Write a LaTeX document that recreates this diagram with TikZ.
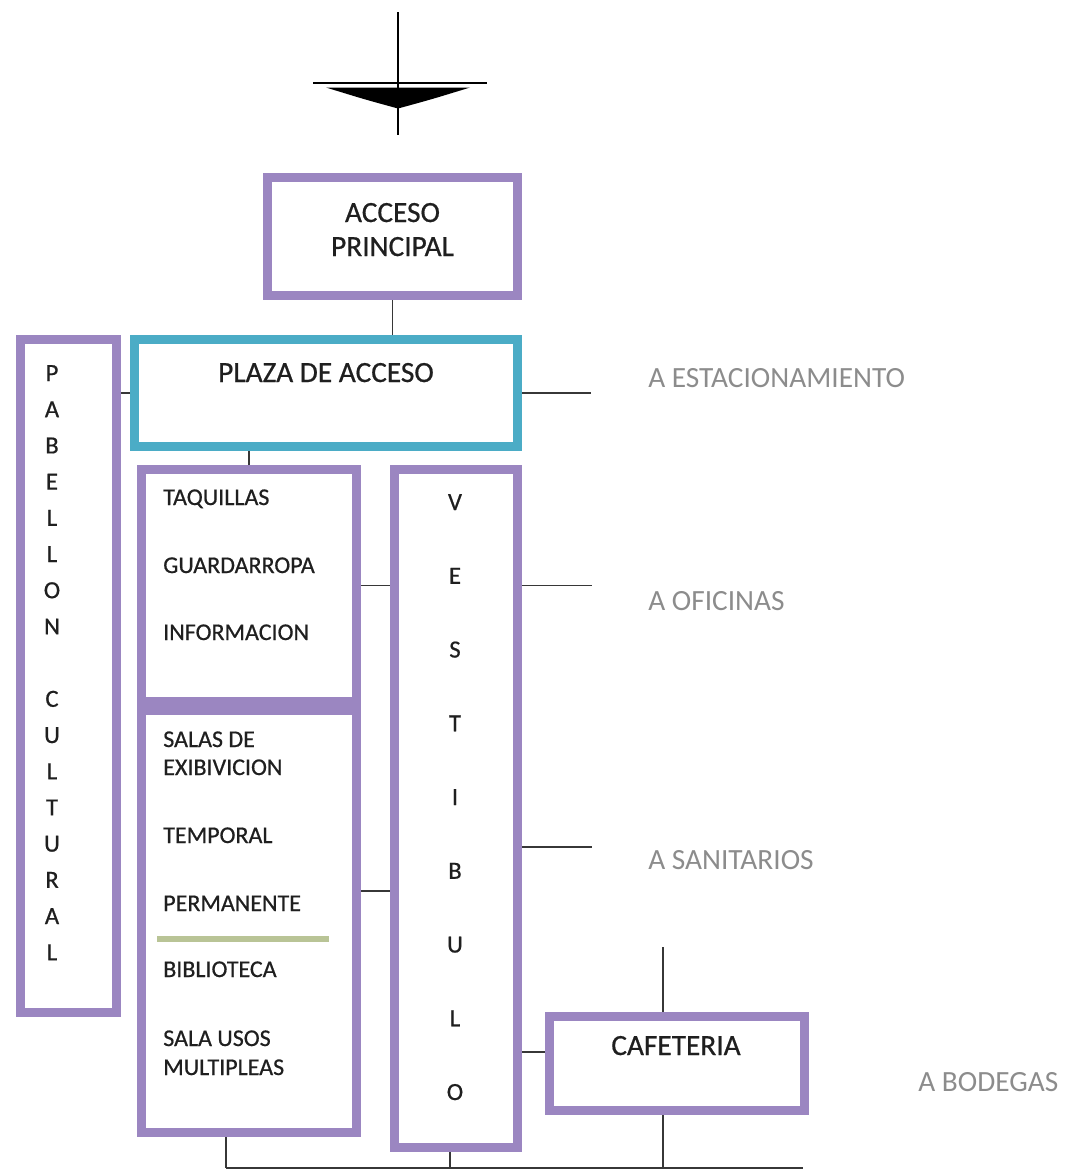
\documentclass[tikz,border=0pt]{standalone}
\usepackage{fontspec}
\setmainfont{Carlito}
\newfontfamily\darkfont[FakeBold=0.6]{Carlito}
\definecolor{boxpurple}{RGB}{155,134,193}
\definecolor{boxteal}{RGB}{75,172,198}
\definecolor{olive}{RGB}{185,196,150}
\definecolor{labgray}{RGB}{140,140,140}
\definecolor{linegray}{RGB}{55,55,55}
\begin{document}
\begin{tikzpicture}[x=0.75pt,y=-0.75pt,
  box/.style={draw=boxpurple,line width=6.75pt,rectangle,inner sep=0pt,fill=white},
  tealbox/.style={box,draw=boxteal},
  conn/.style={draw=linegray,line width=1.3pt},
  bigtxt/.style={inner sep=0pt,anchor=base,text=black!88,font=\darkfont\fontsize{22}{26}\selectfont},
  smalltxt/.style={inner sep=0pt,anchor=base west,text=black!88,font=\darkfont\fontsize{18}{21}\selectfont},
  lettertxt/.style={inner sep=0pt,anchor=base,text=black!88,font=\darkfont\fontsize{18.5}{21}\selectfont},
  graytxt/.style={inner sep=0pt,anchor=base west,text=labgray,font=\fontsize{22}{26}\selectfont}]
\useasboundingbox (0,0) rectangle (1066,1171);

% north symbol
\coordinate (nTop) at (398,12);
\coordinate (nBot) at (398,135);
\coordinate (nL) at (313,82.7);
\coordinate (nR) at (487,82.7);
\fill[black] (326,87.5) .. controls (365,99.5) .. (398,108.5) .. controls (431,99.5) .. (470,87.5) -- cycle;
\draw[line width=1.6pt] (nTop) -- (nBot);
\draw[line width=1.6pt] (nL) -- (nR);

% boxes
\node[box,minimum width=187.5pt,minimum height=88.5pt] (acceso) at (392.5,236.5) {};
\node[tealbox,minimum width=287.25pt,minimum height=80.25pt] (plaza) at (326,393) {};
\node[box,minimum width=72pt,minimum height=504.75pt] (pab) at (68.5,676) {};
\node[box,minimum width=161.25pt,minimum height=174pt] (taq) at (249,585.5) {};
\node[box,minimum width=161.25pt,minimum height=316.5pt] (salas) at (249,921.5) {};
\node[box,minimum width=92.25pt,minimum height=508.5pt] (vest) at (456,808.5) {};
\node[box,minimum width=191.25pt,minimum height=70.5pt] (cafe) at (677,1063.5) {};

% free ends
\coordinate (estEnd) at (591,393);
\coordinate (ofiEnd) at (592,585.5);
\coordinate (sanEnd) at (592,847);
\coordinate (sv) at (375,891);
\coordinate (vc) at (533,1052);
\coordinate (cafeTop) at (663,947);
\coordinate (busL) at (226,1168);
\coordinate (busR) at (803,1168);
\coordinate (vb) at (450,1168);
\coordinate (cb) at (663,1168);

% connectors
\draw[conn] (acceso.south) -- (acceso.south |- plaza.north);
\draw[conn] (plaza.west) -- (plaza.west -| pab.east);
\draw[conn] (plaza.east) -- (estEnd);
\draw[conn] (taq.north) -- (taq.north |- plaza.south);
\draw[conn] (taq.east) -- (taq.east -| vest.west);
\draw[conn] (vest.east |- ofiEnd) -- (ofiEnd);
\draw[conn] (vest.east |- sanEnd) -- (sanEnd);
\draw[conn] (salas.east |- sv) -- (vest.west |- sv);
\draw[conn] (vest.east |- vc) -- (cafe.west |- vc);
\draw[conn] (cafeTop) -- (cafeTop |- cafe.north);
\draw[conn] (cafe.south -| cb) -- (cb);
\draw[conn] (busL) -- (busR);
\draw[conn] (salas.south -| busL) -- (busL);
\draw[conn] (vest.south -| vb) -- (vb);

% green divider
\coordinate (gL) at (157,939);
\coordinate (gR) at (329,939);
\draw[olive,line width=5pt] (gL) -- (gR);

% texts in boxes
\node[bigtxt] (t1) at (392.5,222) {ACCESO};
\node[bigtxt] (t2) at (392.5,256) {PRINCIPAL};
\node[bigtxt] (t3) at (326,382) {PLAZA DE ACCESO};
\node[bigtxt] (t4) at (676,1055) {CAFETERIA};

\node[smalltxt] (s1) at (163,505) {TAQUILLAS};
\node[smalltxt] (s2) at (163,573) {GUARDARROPA};
\node[smalltxt] (s3) at (163,640) {INFORMACION};
\node[smalltxt] (s4) at (163,747) {SALAS DE};
\node[smalltxt] (s5) at (163,775) {EXIBIVICION};
\node[smalltxt] (s6) at (163,843) {TEMPORAL};
\node[smalltxt] (s7) at (163,911) {PERMANENTE};
\node[smalltxt] (s8) at (163,977) {BIBLIOTECA};
\node[smalltxt] (s9) at (163,1046) {SALA USOS};
\node[smalltxt] (s10) at (163,1075) {MULTIPLEAS};

% vertical words
\foreach \ch [count=\i from 0] in {P,A,B,E,L,L,O,N,{},C,U,L,T,U,R,A,L}{
  \node[lettertxt] (p\i) at (52,381+36.2*\i) {\ch};
}
\foreach \ch [count=\i from 0] in {V,E,S,T,I,B,U,L,O}{
  \node[lettertxt] (v\i) at (455,510+73.75*\i) {\ch};
}

% gray labels
\node[graytxt] (g1) at (648,387) {A ESTACIONAMIENTO};
\node[graytxt] (g2) at (648,610) {A OFICINAS};
\node[graytxt] (g3) at (648,869) {A SANITARIOS};
\node[graytxt] (g4) at (918,1091) {A BODEGAS};
\end{tikzpicture}
\end{document}
